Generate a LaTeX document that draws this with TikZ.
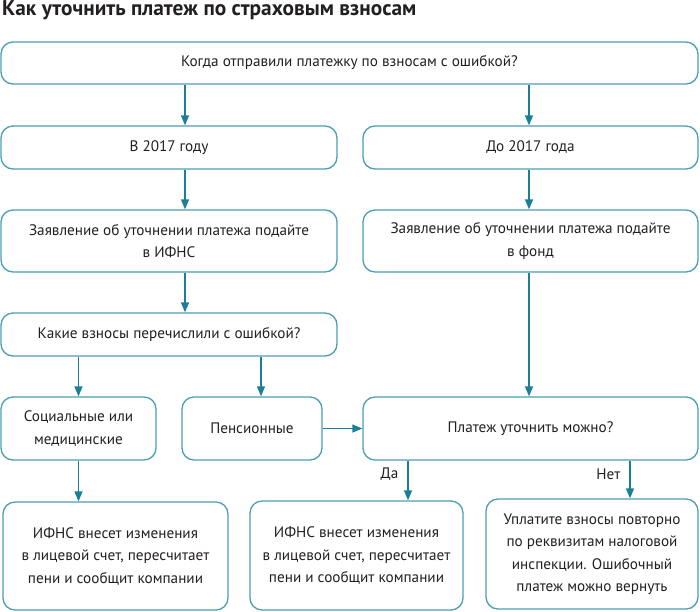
\documentclass[tikz,border=0pt]{standalone}
\usepackage{fontspec}
\setmainfont{PT Sans}
\usetikzlibrary{arrows.meta}
\definecolor{bord}{HTML}{4C9EB2}
\definecolor{arrc}{HTML}{1C7F98}
\definecolor{txt}{HTML}{231F20}
\tikzset{
  box/.style={draw=bord, line width=1.3pt, rounded corners=12pt, align=center,
    text=txt, font=\fontsize{15.2}{22.5}\selectfont, inner sep=0pt},
  arr/.style={draw=arrc, line width=1.3pt, -{Triangle[length=10pt,width=8pt]}},
  lbl/.style={text=txt, font=\fontsize{15.2}{22.5}\selectfont, inner sep=0pt}
}
\begin{document}
\begin{tikzpicture}[x=1pt,y=-1pt]
\useasboundingbox (0,0) rectangle (700,611);
\node[anchor=base west, inner sep=0pt, text=txt, font=\fontsize{21.3}{24}\selectfont\bfseries] (title) at (2,15.5) {Как уточнить платеж по страховым взносам};
\node[box, minimum width=697, minimum height=42] (q1) at (349.5,63) {Когда отправили платежку по взносам с ошибкой?};
\node[box, minimum width=336, minimum height=43] (y17) at (169,147.5) {В 2017 году};
\node[box, minimum width=335, minimum height=43] (b17) at (530.5,147.5) {До 2017 года};
\node[box, minimum width=336, minimum height=62] (ifns) at (169,241) {Заявление об уточнении платежа подайте\\в ИФНС};
\node[box, minimum width=335, minimum height=62] (fond) at (530.5,241) {Заявление об уточнении платежа подайте\\в фонд};
\node[box, minimum width=336, minimum height=43] (which) at (169,334.5) {Какие взносы перечислили с ошибкой?};
\node[box, minimum width=155, minimum height=63] (soc) at (78.5,428.5) {Социальные или\\медицинские};
\node[box, minimum width=140, minimum height=63] (pens) at (252,428.5) {Пенсионные};
\node[box, minimum width=335, minimum height=63] (can) at (530.5,428.5) {Платеж уточнить можно?};
\node[box, minimum width=225, minimum height=108] (r1) at (115.5,556) {ИФНС внесет изменения\\в лицевой счет, пересчитает\\пени и сообщит компании};
\node[box, minimum width=213, minimum height=109] (r2) at (356.5,555.5) {ИФНС внесет изменения\\в лицевой счет, пересчитает\\пени и сообщит компании};
\node[box, minimum width=212, minimum height=110] (r3) at (592,554) {Уплатите взносы повторно\\по реквизитам налоговой\\инспекции. Ошибочный\\платеж можно вернуть};
\draw[arr] ([xshift=16]y17.north |- q1.south) -- ([xshift=16]y17.north);
\draw[arr] ([xshift=-1.5]b17.north |- q1.south) -- ([xshift=-1.5]b17.north);
\draw[arr] ([xshift=16]y17.south) -- ([xshift=16]ifns.north);
\draw[arr] ([xshift=-1.5]b17.south) -- ([xshift=-1.5]fond.north);
\draw[arr] ([xshift=16]ifns.south) -- ([xshift=16]which.north);
\draw[arr] (soc.north |- which.south) -- (soc.north);
\draw[arr] ([xshift=9]pens.north |- which.south) -- ([xshift=9]pens.north);
\draw[arr] (pens.east) -- (can.west);
\draw[arr] ([xshift=-1.5]fond.south) -- ([xshift=-1.5]can.north);
\draw[arr] (soc.south) -- (soc.south |- r1.north);
\draw[arr] ([xshift=51.5]r2.north |- can.south) -- ([xshift=51.5]r2.north) node[lbl, pos=0.35, left=9pt] (da) {Да};
\draw[arr] ([xshift=38]r3.north |- can.south) -- ([xshift=38]r3.north) node[lbl, pos=0.35, left=9pt] (net) {Нет};
\end{tikzpicture}
\end{document}
